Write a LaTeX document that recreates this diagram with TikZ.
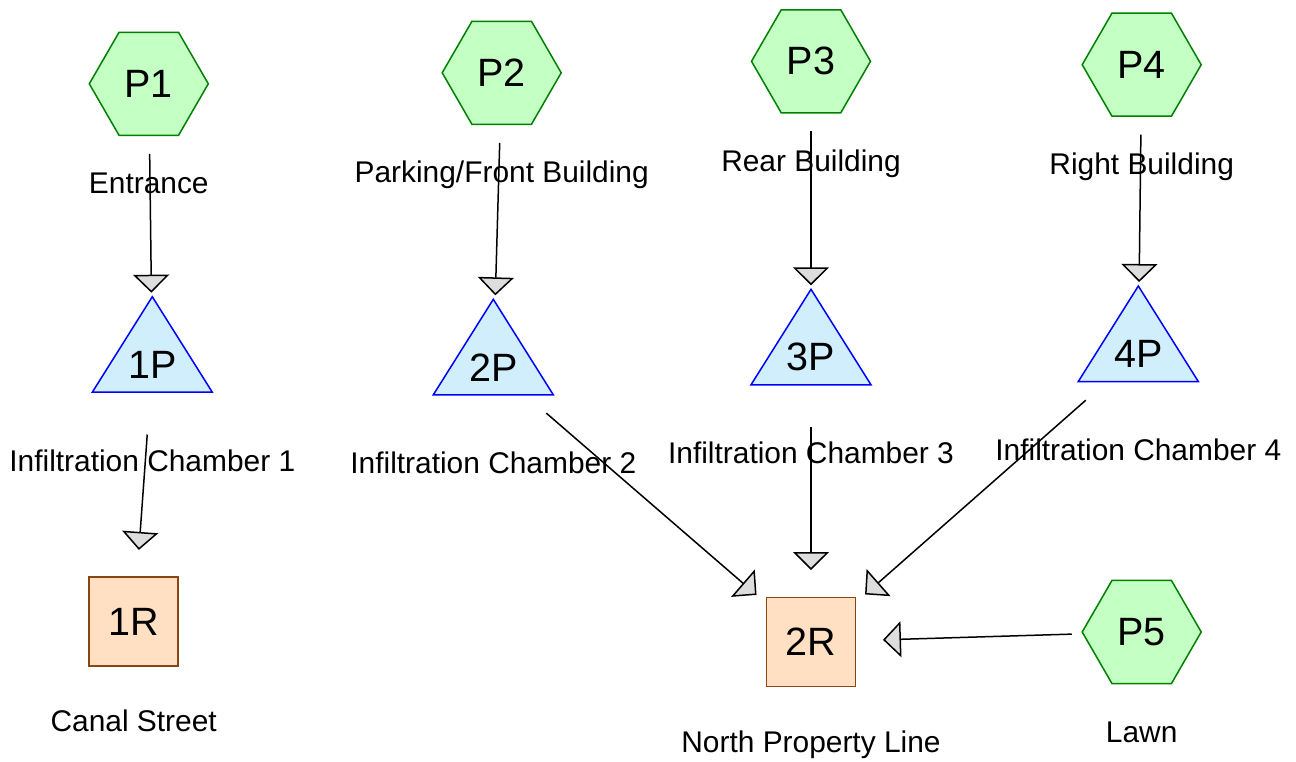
\documentclass[tikz,border=0pt]{standalone}
\usepackage{fontspec}
\setmainfont{Liberation Sans}
\usepackage{tikz}
\usetikzlibrary{arrows.meta,shapes.geometric}
\definecolor{hexfill}{HTML}{C4FFC4}
\definecolor{hexline}{HTML}{008000}
\definecolor{trifill}{HTML}{D0EEFC}
\definecolor{triline}{HTML}{0000FF}
\definecolor{boxfill}{HTML}{FFE0C2}
\definecolor{boxline}{HTML}{8B4513}
\definecolor{tipfill}{HTML}{DDDDDD}
\tikzset{hexnode/.style={
    regular polygon, regular polygon sides=6,
    draw=hexline, fill=hexfill, line width=1.5pt,
    minimum size=119pt, inner sep=0pt,
    font=\fontsize{39.5}{44}\selectfont
  },
  tri/.style={draw=triline, fill=trifill, line width=1.5pt},
  trinode/.style={inner sep=0pt, font=\fontsize{39.5}{44}\selectfont},
  boxnode/.style={
    rectangle, draw=boxline, fill=boxfill, line width=1.5pt,
    minimum size=89pt, inner sep=0pt,
    font=\fontsize{39.5}{44}\selectfont
  },
  lbl/.style={anchor=base, inner sep=0pt, font=\fontsize{29.9}{34}\selectfont},
  flow/.style={line width=1.5pt, shorten <=70pt, shorten >=72pt,
    -{Triangle[width=36pt,length=18pt,fill=tipfill]}}
}

\begin{document}
\begin{tikzpicture}[x=1pt,y=-1pt]
    \useasboundingbox (0,0) rectangle (1296,761);
    % subcatchments
    \foreach \n/\x/\y/\t in {P1/148.8/83.8/Entrance, P2/501.7/72.8/{Parking/Front Building},
        P3/811/61.3/Rear Building, P4/1141.7/64.7/Right Building, P5/1141.7/632/Lawn} {
        \node[hexnode] (\n) at (\x,\y) {\n};
        \node[lbl] (\n-lbl) at (\x,\y+110) {\t};
    }
    % storage units
    \foreach \n/\x/\y/\t in {1P/152.3/364.7/Infiltration Chamber 1, 2P/493.3/367.3/Infiltration Chamber 2,
        3P/811/357.3/Infiltration Chamber 3, 4P/1138.3/354/Infiltration Chamber 4} {
        \filldraw[tri] (\x,\y) +(0,-68) -- +(60,27.5) -- +(-60,27.5) -- cycle;
        \node[trinode] (\n) at (\x,\y) {\n};
        \node[lbl] (\n-lbl) at (\x,\y+106.5) {\t};
    }
    % outfalls
    \foreach \n/\x/\y/\t in {1R/133.7/621.7/Canal Street, 2R/811/642/North Property Line} {
        \node[boxnode] (\n) at (\x,\y) {\n};
        \node[lbl] (\n-lbl) at (\x,\y+110) {\t};
    }
    % links
    \foreach \a/\b in {P1/1P, P2/2P, P3/3P, P4/4P, 1P/1R, 2P/2R, 3P/2R, 4P/2R, P5/2R}
        \draw[flow] (\a.center) -- (\b.center);
\end{tikzpicture}
\end{document}
